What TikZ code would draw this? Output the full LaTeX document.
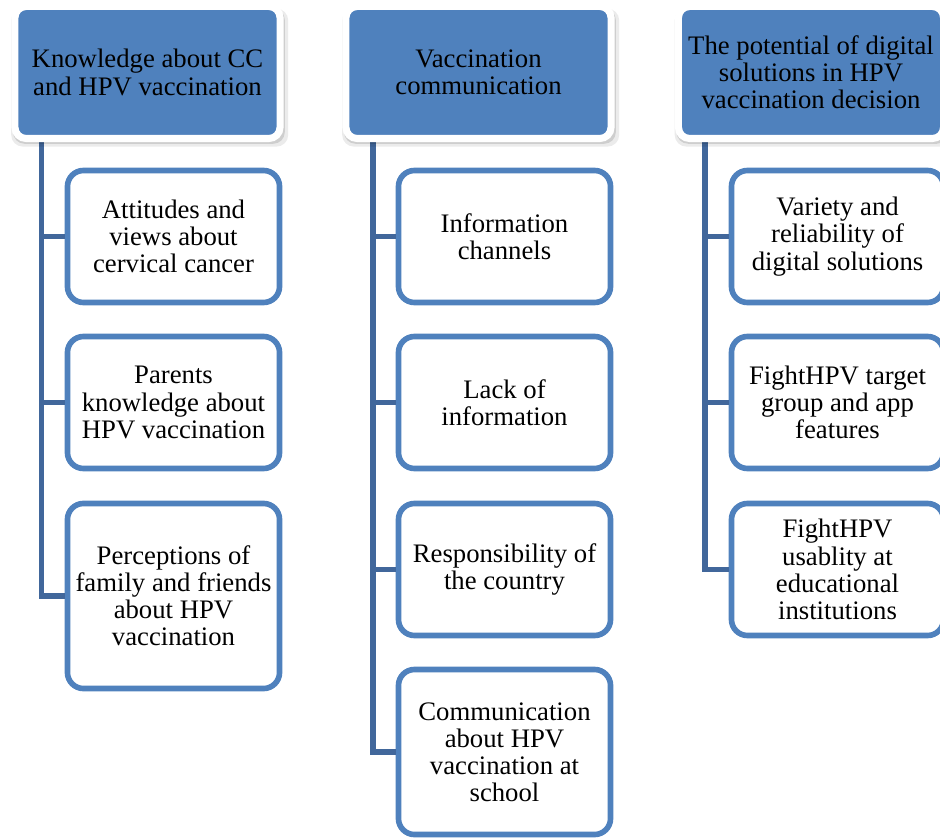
\documentclass[tikz,border=0pt]{standalone}
\usepackage{fontspec}
\setmainfont{Liberation Serif}
\usetikzlibrary{calc,shadows}
\definecolor{hpvblue}{HTML}{4F81BD}
\definecolor{hpvline}{HTML}{41679B}
\tikzset{
  hd/.style={rectangle,rounded corners=0.28cm,fill=hpvblue,draw=white,line width=5pt,
    minimum width=6.625cm,minimum height=3.3cm,inner sep=0pt,align=center,font=\fontsize{19}{19.3}\selectfont,
    general shadow={fill=black,opacity=0.08,shadow xshift=1.5pt,shadow yshift=-3.5pt,shadow scale=1.045},
    general shadow={fill=black,opacity=0.12,shadow xshift=1pt,shadow yshift=-2.5pt,shadow scale=1.025}},
  sb/.style={rectangle,rounded corners=0.4cm,fill=white,draw=hpvblue,line width=4pt,
    minimum width=5.3cm,minimum height=3.3cm,inner sep=0pt,align=center,font=\fontsize{19}{19.3}\selectfont},
  br/.style={draw=hpvline,line width=4.2pt},
}
\begin{document}
\begin{tikzpicture}[x=0.025cm,y=-0.025cm]
\useasboundingbox (0,0) rectangle (940,839);
\clip (0,0) rectangle (940,839);
% children
\node[sb] (c11) at (173.5,236.5){Attitudes and\\views about\\cervical cancer};
\node[sb] (c12) at (173.5,402.5){Parents\\knowledge about\\HPV vaccination};
\node[sb,minimum height=4.625cm] (c13) at (173.5,596){Perceptions of\\family and friends\\about HPV\\vaccination};
\node[sb] (c21) at (504.5,236.5){Information\\channels};
\node[sb] (c22) at (504.5,402.5){Lack of\\information};
\node[sb] (c23) at (504.5,569.5){Responsibility of\\the country};
\node[sb,minimum height=4.125cm] (c24) at (504.5,752){Communication\\about HPV\\vaccination at\\school};
\node[sb] (c31) at (837.5,236.5){Variety and\\reliability of\\digital solutions};
\node[sb] (c32) at (837.5,402.5){FightHPV target\\group and app\\features};
\node[sb] (c33) at (837.5,569.5){FightHPV\\usablity at\\educational\\institutions};
% branches
\coordinate (a1) at (15,138); \coordinate (a2) at (346,138); \coordinate (a3) at (678.5,138);
\coordinate (b1) at ($(a1)+(26.5,0)$); \coordinate (b2) at ($(a2)+(27,0)$); \coordinate (b3) at ($(a3)+(26.5,0)$);
\draw[br] (b1) |- (c13.west); \draw[br] (c11.west) -- (c11.west -| b1); \draw[br] (c12.west) -- (c12.west -| b1);
\draw[br] (b2) |- (c24.west);
\foreach \i in {1,2,3} {\draw[br] (c2\i.west) -- (c2\i.west -| b2);}
\draw[br] (b3) |- (c33.west); \draw[br] (c31.west) -- (c31.west -| b3); \draw[br] (c32.west) -- (c32.west -| b3);
% headers
\node[hd] (h1) at (147.5,72.5){Knowledge about CC\\and HPV vaccination};
\node[hd] (h2) at (478.5,72.5){Vaccination\\communication};
\node[hd] (h3) at (811,72.5){The potential of digital\\solutions in HPV\\vaccination decision};
\end{tikzpicture}
\end{document}
